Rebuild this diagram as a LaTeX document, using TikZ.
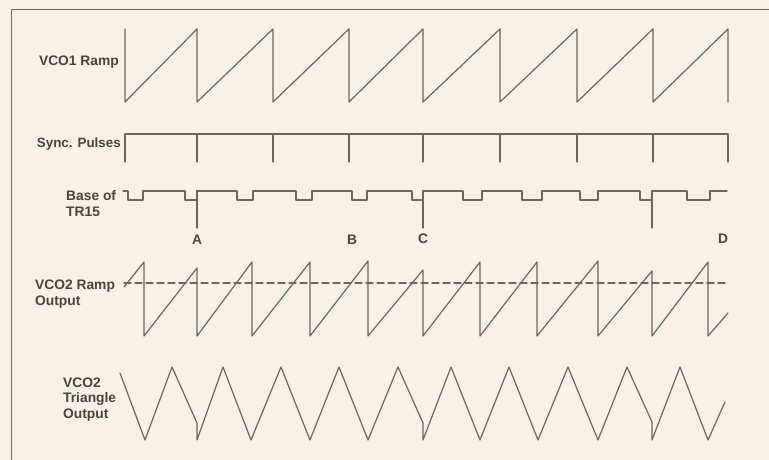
\documentclass[tikz,border=0pt]{standalone}
\usepackage{fontspec}
\setmainfont{Liberation Sans}
\definecolor{giay}{HTML}{F7F2E6}
\definecolor{muc}{HTML}{6E655F}
\definecolor{chu}{HTML}{4A4440}
\tikzset{nhan/.style={text=chu,inner sep=0pt,align=left},
	song/.style={muc,line width=1.2pt}}
\begin{document}
\begin{tikzpicture}[x=1pt,y=-1pt,line join=round,line cap=round,font=\bfseries\fontsize{13.8}{15.8}\selectfont]
	\fill[giay] (0,0) rectangle (769,460);
	\useasboundingbox (0,0) rectangle (769,460);
	\draw[muc,line width=1pt] (769,10)--(11,10)--(11,460); % khung
	% nhãn
	\node[nhan,anchor=east] (vco1) at (119,62) {VCO1 Ramp};
	\node[nhan,anchor=east,font=\bfseries\fontsize{13.4}{15.5}\selectfont] (sync) at (121,144) {Sync. Pulses};
	\node[nhan,anchor=west] (base) at (66,203.5) {Base of\\TR15};
	\node[nhan,anchor=west] (ramp2) at (35,294.5) {VCO2 Ramp\\Output};
	\node[nhan,anchor=west] (tri2) at (63,399.5) {VCO2\\Triangle\\Output};
	\foreach \ten/\x/\y in {A/197/240,B/352/240,C/423/239,D/723/239}
		\node[nhan] (\ten) at (\x,\y) {\ten};
	% VCO1 Ramp
	\draw[song] (125,29)--(125,102) \foreach \x in {197,273,349,423,500,577,653,728}{--(\x,29)--(\x,102)};
	% Sync. Pulses
	\draw[song] (125,162)--(125,134)--(728,134)--(728,162);
	\foreach \x in {197,273,349,423,500,577,653} \draw[song] (\x,134)--(\x,162);
	% Base of TR15
	\draw[song] (123,191) \foreach \a/\b in {128/143,185/197,237/253,296/312,352/367,412/423,463/482,522/542,580/598,640/652,687/710}{--(\a,191)--(\a,200)--(\b,200)--(\b,191)}--(727,191);
	\foreach \x in {197,423,652} \draw[song] (\x,191)--(\x,228);
	% VCO2 Ramp
	\draw[muc,line width=1.1pt,dash pattern=on 7pt off 4pt] (124,283)--(728,283);
	\draw[song] (124,287) \foreach \x/\t in {144/262,197/268,252/262,310/262,368/261,423/270,480/262,537/262,598/261,652/271,708/262}{--(\x,\t)--(\x,336)}--(728,313);
	% VCO2 Triangle
	\draw[song] (120,373)--(145,440)--(172,367)--(197,423)--(197,440)--(223,367)--(251,440)--(281,367)--(310,440)--(339,367)--(368,440)--(398,367)--(423,423)--(423,440)--(451,367)--(480,440)--(509,367)--(538,440)--(568,367)--(598,440)--(627,367)--(652,422)--(652,440)--(680,367)--(708,440)--(725,402);
\end{tikzpicture}
\end{document}
